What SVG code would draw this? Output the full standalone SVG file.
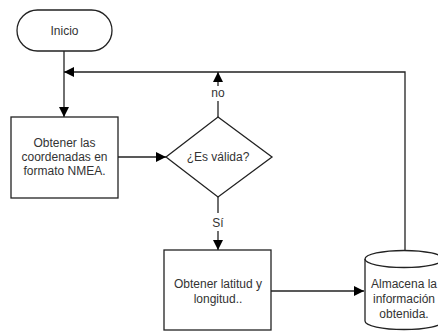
<svg xmlns="http://www.w3.org/2000/svg" width="438" height="331" viewBox="0 0 438 331">
  <defs>
    <marker id="arrow" viewBox="0 0 10 10" refX="10" refY="5" markerWidth="10" markerHeight="10" markerUnits="userSpaceOnUse" orient="auto">
      <path d="M0,0 L10,5 L0,10 z" fill="#000"/>
    </marker>
    <style>
      .shape { fill: #fff; stroke: #222; stroke-width: 1.3; }
      .edge { fill: none; stroke: #222; stroke-width: 1.3; }
      text { font-family: "Liberation Sans", Arial, sans-serif; font-size: 12px; fill: #333; text-anchor: middle; }
    </style>
  </defs>

  <rect width="438" height="331" fill="#fff"/>

  <!-- connectors -->
  <g id="connectors">
    <path class="edge" d="M64,51 V117" marker-end="url(#arrow)"/>
    <path class="edge" d="M405,250 V72 H64" marker-end="url(#arrow)"/>
    <path class="edge" d="M118,157 H166" marker-end="url(#arrow)"/>
    <path class="edge" d="M218,117 V101"/>
    <path class="edge" d="M218,86 V72" marker-end="url(#arrow)"/>
    <path class="edge" d="M218,197 V213"/>
    <path class="edge" d="M218,231 V250" marker-end="url(#arrow)"/>
    <path class="edge" d="M271,291 H364" marker-end="url(#arrow)"/>
    <text x="218" y="97">no</text>
    <text x="218" y="227">Sí</text>
  </g>

  <g id="inicio">
    <rect class="shape" x="17" y="10" width="95" height="41" rx="20.5"/>
    <text x="64.5" y="34.5">Inicio</text>
  </g>

  <g id="obtener-coordenadas">
    <rect class="shape" x="11" y="117" width="107" height="81"/>
    <text x="64.5" y="147">Obtener las</text>
    <text x="64.5" y="161">coordenadas en</text>
    <text x="64.5" y="175">formato NMEA.</text>
  </g>

  <g id="es-valida">
    <polygon class="shape" points="218,117 272,157 218,197 166,157"/>
    <text x="218" y="161">¿Es válida?</text>
  </g>

  <g id="obtener-latitud">
    <rect class="shape" x="164" y="250" width="107" height="80"/>
    <text x="218" y="288">Obtener latitud y</text>
    <text x="218" y="303">longitud..</text>
  </g>

  <g id="almacena">
    <path class="shape" d="M365,259 A39,8.5 0 0 1 443,259 V321 A39,8.5 0 0 1 365,321 Z"/>
    <path class="edge" d="M365,259 A39,8.5 0 0 0 443,259"/>
    <text x="404" y="288">Almacena la</text>
    <text x="404" y="303">información</text>
    <text x="404" y="318">obtenida.</text>
  </g>
</svg>
